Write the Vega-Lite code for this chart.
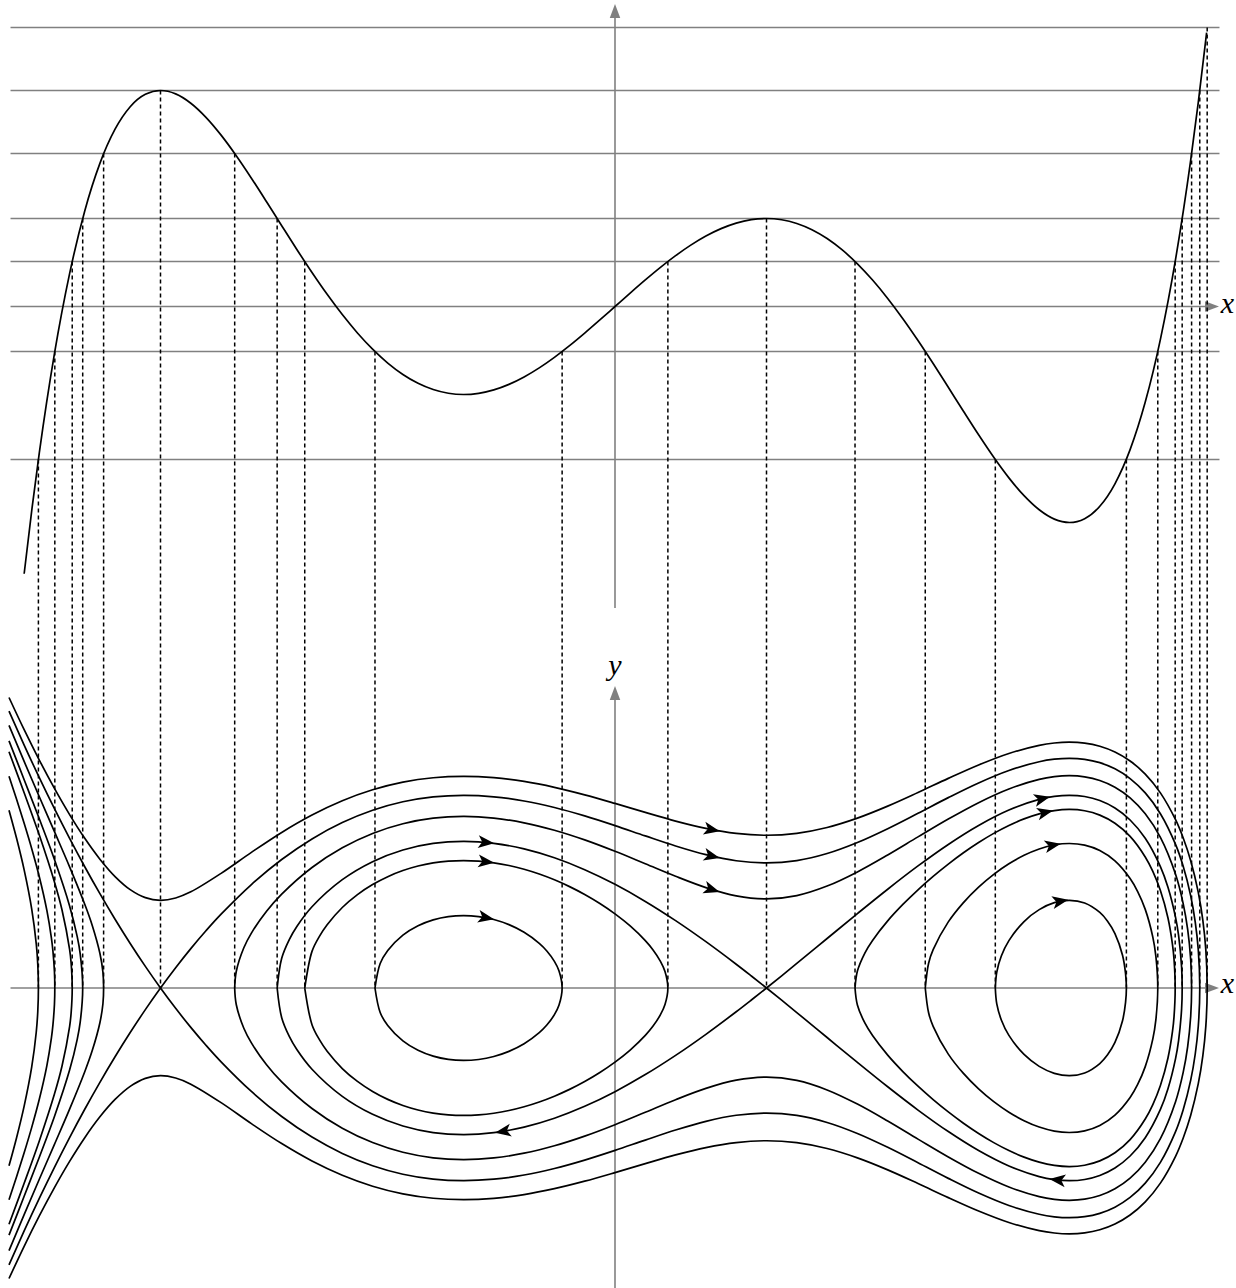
{
"$schema":"https://vega.github.io/schema/vega-lite/v6.json",
"width":1236,"height":1288,"padding":0,"autosize":{"type":"none"},
"background":"white",
"config":{"view":{"stroke":null}},
"datasets":{
"lev":[{"E":18.6},{"E":14.4},{"E":10.2},{"E":5.8667},{"E":3},{"E":-3},{"E":-10.2}],
"dash":[{"x":3.9088,"E":18.6},{"x":-3,"E":14.4},{"x":3.8599,"E":14.4},{"x":-3.3755,"E":10.2},{"x":-2.5103,"E":10.2},{"x":3.8059,"E":10.2},{"x":-3.5135,"E":5.8667},{"x":-2.23,"E":5.8667},{"x":1,"E":5.8667},{"x":3.7437,"E":5.8667},{"x":-3.5827,"E":3},{"x":-2.0479,"E":3},{"x":0.349,"E":3},{"x":1.5843,"E":3},{"x":3.6976,"E":3},{"x":-3.6976,"E":-3},{"x":-1.5843,"E":-3},{"x":-0.349,"E":-3},{"x":2.0479,"E":-3},{"x":3.5827,"E":-3},{"x":-3.8059,"E":-10.2},{"x":2.5103,"E":-10.2},{"x":3.3755,"E":-10.2}],
"pot":[{"x":-3.9,"V":-17.8184},{"x":-3.85,"V":-13.6019},{"x":-3.8,"V":-9.7637},{"x":-3.7,"V":-3.1446},{"x":-3.6,"V":2.1876},{"x":-3.5,"V":6.3729},{"x":-3.4,"V":9.5425},{"x":-3.3,"V":11.8192},{"x":-3.2,"V":13.3178},{"x":-3.1,"V":14.145},{"x":-3,"V":14.4},{"x":-2.9,"V":14.1744},{"x":-2.8,"V":13.5526},{"x":-2.7,"V":12.6122},{"x":-2.6,"V":11.4239},{"x":-2.5,"V":10.0521},{"x":-2.4,"V":8.5548},{"x":-2.3,"V":6.984},{"x":-2.2,"V":5.3861},{"x":-2.1,"V":3.8018},{"x":-2,"V":2.2667},{"x":-1.9,"V":0.8111},{"x":-1.8,"V":-0.5391},{"x":-1.7,"V":-1.763},{"x":-1.6,"V":-2.8438},{"x":-1.5,"V":-3.7688},{"x":-1.4,"V":-4.529},{"x":-1.3,"V":-5.1193},{"x":-1.2,"V":-5.5377},{"x":-1.1,"V":-5.7854},{"x":-1,"V":-5.8667},{"x":-0.9,"V":-5.7881},{"x":-0.8,"V":-5.5589},{"x":-0.7,"V":-5.1903},{"x":-0.6,"V":-4.6956},{"x":-0.5,"V":-4.0896},{"x":-0.4,"V":-3.3887},{"x":-0.3,"V":-2.6105},{"x":-0.2,"V":-1.7734},{"x":-0.1,"V":-0.8967},{"x":0,"V":0},{"x":0.1,"V":0.8967},{"x":0.2,"V":1.7734},{"x":0.3,"V":2.6105},{"x":0.4,"V":3.3887},{"x":0.5,"V":4.0896},{"x":0.6,"V":4.6956},{"x":0.7,"V":5.1903},{"x":0.8,"V":5.5589},{"x":0.9,"V":5.7881},{"x":1,"V":5.8667},{"x":1.1,"V":5.7854},{"x":1.2,"V":5.5377},{"x":1.3,"V":5.1193},{"x":1.4,"V":4.529},{"x":1.5,"V":3.7688},{"x":1.6,"V":2.8438},{"x":1.7,"V":1.763},{"x":1.8,"V":0.5391},{"x":1.9,"V":-0.8111},{"x":2,"V":-2.2667},{"x":2.1,"V":-3.8018},{"x":2.2,"V":-5.3861},{"x":2.3,"V":-6.984},{"x":2.4,"V":-8.5548},{"x":2.5,"V":-10.0521},{"x":2.6,"V":-11.4239},{"x":2.7,"V":-12.6122},{"x":2.8,"V":-13.5526},{"x":2.9,"V":-14.1744},{"x":3,"V":-14.4},{"x":3.1,"V":-14.145},{"x":3.2,"V":-13.3178},{"x":3.3,"V":-11.8192},{"x":3.4,"V":-9.5425},{"x":3.5,"V":-6.3729},{"x":3.6,"V":-2.1876},{"x":3.7,"V":3.1446},{"x":3.8,"V":9.7637},{"x":3.85,"V":13.6019},{"x":3.9,"V":17.8184},{"x":3.905,"V":18.26}],
"arr":[{"x":-0.85,"y":3.3998,"a":5.5},{"x":-0.85,"y":2.9482,"a":6.3},{"x":-0.85,"y":1.6406,"a":11.2},{"x":0.64,"y":3.7003,"a":11},{"x":0.64,"y":3.081,"a":13.1},{"x":0.64,"y":2.3005,"a":17.3},{"x":2.82,"y":4.4244,"a":-14},{"x":2.84,"y":4.1041,"a":-12.8},{"x":2.89,"y":3.3359,"a":-11},{"x":2.94,"y":2.0293,"a":-10.8},{"x":-0.74,"y":-3.3497,"a":170.8},{"x":2.92,"y":-4.4856,"a":186.4}],
"orb":[
{"c":"A","x":-4,"y":6.7872},{"c":"A","x":-3.9,"y":6.0348},{"c":"A","x":-3.8,"y":5.3258},{"c":"A","x":-3.7,"y":4.6632},{"c":"A","x":-3.6,"y":4.0512},{"c":"A","x":-3.5,"y":3.4967},{"c":"A","x":-3.4,"y":3.0096},{"c":"A","x":-3.3,"y":2.604},{"c":"A","x":-3.2,"y":2.2983},{"c":"A","x":-3.1,"y":2.1107},{"c":"A","x":-3,"y":2.0494},{"c":"A","x":-2.9,"y":2.1037},{"c":"A","x":-2.8,"y":2.2466},{"c":"A","x":-2.6,"y":2.6788},{"c":"A","x":-2.4,"y":3.1694},{"c":"A","x":-2.2,"y":3.6351},{"c":"A","x":-2,"y":4.0415},{"c":"A","x":-1.8,"y":4.3748},{"c":"A","x":-1.6,"y":4.6307},{"c":"A","x":-1.4,"y":4.8093},{"c":"A","x":-1.2,"y":4.913},{"c":"A","x":-1,"y":4.9464},{"c":"A","x":-0.8,"y":4.9152},{"c":"A","x":-0.6,"y":4.8266},{"c":"A","x":-0.4,"y":4.6892},{"c":"A","x":-0.2,"y":4.5137},{"c":"A","x":0,"y":4.3128},{"c":"A","x":0.2,"y":4.102},{"c":"A","x":0.4,"y":3.9002},{"c":"A","x":0.6,"y":3.7289},{"c":"A","x":0.8,"y":3.6113},{"c":"A","x":1,"y":3.5684},{"c":"A","x":1.2,"y":3.6142},{"c":"A","x":1.4,"y":3.7511},{"c":"A","x":1.6,"y":3.9694},{"c":"A","x":1.8,"y":4.2498},{"c":"A","x":2,"y":4.568},{"c":"A","x":2.2,"y":4.8976},{"c":"A","x":2.4,"y":5.211},{"c":"A","x":2.6,"y":5.4794},{"c":"A","x":2.8,"y":5.6703},{"c":"A","x":2.9,"y":5.7249},{"c":"A","x":3,"y":5.7446},{"c":"A","x":3.1,"y":5.7223},{"c":"A","x":3.2,"y":5.6496},{"c":"A","x":3.3,"y":5.5154},{"c":"A","x":3.4,"y":5.305},{"c":"A","x":3.5,"y":4.9973},{"c":"A","x":3.6,"y":4.5594},{"c":"A","x":3.7,"y":3.9313},{"c":"A","x":3.75,"y":3.5094},{"c":"A","x":3.8,"y":2.9726},{"c":"A","x":3.85,"y":2.2356},{"c":"A","x":3.88,"y":1.5856},{"c":"A","x":3.9,"y":0.8841},{"c":"A","x":3.9088,"y":0},
{"c":"A","x":3.9,"y":-0.8841},{"c":"A","x":3.88,"y":-1.5856},{"c":"A","x":3.85,"y":-2.2356},{"c":"A","x":3.8,"y":-2.9726},{"c":"A","x":3.75,"y":-3.5094},{"c":"A","x":3.7,"y":-3.9313},{"c":"A","x":3.6,"y":-4.5594},{"c":"A","x":3.5,"y":-4.9973},{"c":"A","x":3.4,"y":-5.305},{"c":"A","x":3.3,"y":-5.5154},{"c":"A","x":3.2,"y":-5.6496},{"c":"A","x":3.1,"y":-5.7223},{"c":"A","x":3,"y":-5.7446},{"c":"A","x":2.9,"y":-5.7249},{"c":"A","x":2.8,"y":-5.6703},{"c":"A","x":2.6,"y":-5.4794},{"c":"A","x":2.4,"y":-5.211},{"c":"A","x":2.2,"y":-4.8976},{"c":"A","x":2,"y":-4.568},{"c":"A","x":1.8,"y":-4.2498},{"c":"A","x":1.6,"y":-3.9694},{"c":"A","x":1.4,"y":-3.7511},{"c":"A","x":1.2,"y":-3.6142},{"c":"A","x":1,"y":-3.5684},{"c":"A","x":0.8,"y":-3.6113},{"c":"A","x":0.6,"y":-3.7289},{"c":"A","x":0.4,"y":-3.9002},{"c":"A","x":0.2,"y":-4.102},{"c":"A","x":0,"y":-4.3128},{"c":"A","x":-0.2,"y":-4.5137},{"c":"A","x":-0.4,"y":-4.6892},{"c":"A","x":-0.6,"y":-4.8266},{"c":"A","x":-0.8,"y":-4.9152},{"c":"A","x":-1,"y":-4.9464},{"c":"A","x":-1.2,"y":-4.913},{"c":"A","x":-1.4,"y":-4.8093},{"c":"A","x":-1.6,"y":-4.6307},{"c":"A","x":-1.8,"y":-4.3748},{"c":"A","x":-2,"y":-4.0415},{"c":"A","x":-2.2,"y":-3.6351},{"c":"A","x":-2.4,"y":-3.1694},{"c":"A","x":-2.6,"y":-2.6788},{"c":"A","x":-2.8,"y":-2.2466},{"c":"A","x":-2.9,"y":-2.1037},{"c":"A","x":-3,"y":-2.0494},{"c":"A","x":-3.1,"y":-2.1107},{"c":"A","x":-3.2,"y":-2.2983},{"c":"A","x":-3.3,"y":-2.604},{"c":"A","x":-3.4,"y":-3.0096},{"c":"A","x":-3.5,"y":-3.4967},{"c":"A","x":-3.6,"y":-4.0512},{"c":"A","x":-3.7,"y":-4.6632},{"c":"A","x":-3.8,"y":-5.3258},{"c":"A","x":-3.9,"y":-6.0348},{"c":"A","x":-4,"y":-6.7872},
{"c":"B","x":-4,"y":6.4705},{"c":"B","x":-3.9,"y":5.6761},{"c":"B","x":-3.8,"y":4.9157},{"c":"B","x":-3.7,"y":4.1886},{"c":"B","x":-3.6,"y":3.4946},{"c":"B","x":-3.5,"y":2.8332},{"c":"B","x":-3.4,"y":2.204},{"c":"B","x":-3.3,"y":1.6065},{"c":"B","x":-3.2,"y":1.0403},{"c":"B","x":-3.1,"y":0.505},{"c":"B","x":-3,"y":0},
{"c":"B","x":-2.9,"y":-0.475},{"c":"B","x":-2.8,"y":-0.9205},{"c":"B","x":-2.7,"y":-1.3371},{"c":"B","x":-2.6,"y":-1.7251},{"c":"B","x":-2.4,"y":-2.4177},{"c":"B","x":-2.2,"y":-3.0023},{"c":"B","x":-2,"y":-3.4833},{"c":"B","x":-1.8,"y":-3.8651},{"c":"B","x":-1.6,"y":-4.1526},{"c":"B","x":-1.4,"y":-4.3508},{"c":"B","x":-1.2,"y":-4.4652},{"c":"B","x":-1,"y":-4.5019},{"c":"B","x":-0.8,"y":-4.4676},{"c":"B","x":-0.6,"y":-4.3699},{"c":"B","x":-0.4,"y":-4.2177},{"c":"B","x":-0.2,"y":-4.0216},{"c":"B","x":0,"y":-3.7947},{"c":"B","x":0.2,"y":-3.5534},{"c":"B","x":0.4,"y":-3.3183},{"c":"B","x":0.6,"y":-3.1152},{"c":"B","x":0.8,"y":-2.9734},{"c":"B","x":1,"y":-2.9212},{"c":"B","x":1.2,"y":-2.977},{"c":"B","x":1.4,"y":-3.1418},{"c":"B","x":1.6,"y":-3.3994},{"c":"B","x":1.8,"y":-3.723},{"c":"B","x":2,"y":-4.0825},{"c":"B","x":2.2,"y":-4.4481},{"c":"B","x":2.4,"y":-4.7911},{"c":"B","x":2.6,"y":-5.0817},{"c":"B","x":2.8,"y":-5.287},{"c":"B","x":2.9,"y":-5.3455},{"c":"B","x":3,"y":-5.3666},{"c":"B","x":3.1,"y":-5.3428},{"c":"B","x":3.2,"y":-5.2647},{"c":"B","x":3.3,"y":-5.1205},{"c":"B","x":3.4,"y":-4.8931},{"c":"B","x":3.5,"y":-4.5577},{"c":"B","x":3.6,"y":-4.0728},{"c":"B","x":3.7,"y":-3.3549},{"c":"B","x":3.75,"y":-2.8488},{"c":"B","x":3.8,"y":-2.1532},{"c":"B","x":3.83,"y":-1.5419},{"c":"B","x":3.85,"y":-0.8934},{"c":"B","x":3.8599,"y":0},
{"c":"B","x":3.85,"y":0.8934},{"c":"B","x":3.83,"y":1.5419},{"c":"B","x":3.8,"y":2.1532},{"c":"B","x":3.75,"y":2.8488},{"c":"B","x":3.7,"y":3.3549},{"c":"B","x":3.6,"y":4.0728},{"c":"B","x":3.5,"y":4.5577},{"c":"B","x":3.4,"y":4.8931},{"c":"B","x":3.3,"y":5.1205},{"c":"B","x":3.2,"y":5.2647},{"c":"B","x":3.1,"y":5.3428},{"c":"B","x":3,"y":5.3666},{"c":"B","x":2.9,"y":5.3455},{"c":"B","x":2.8,"y":5.287},{"c":"B","x":2.6,"y":5.0817},{"c":"B","x":2.4,"y":4.7911},{"c":"B","x":2.2,"y":4.4481},{"c":"B","x":2,"y":4.0825},{"c":"B","x":1.8,"y":3.723},{"c":"B","x":1.6,"y":3.3994},{"c":"B","x":1.4,"y":3.1418},{"c":"B","x":1.2,"y":2.977},{"c":"B","x":1,"y":2.9212},{"c":"B","x":0.8,"y":2.9734},{"c":"B","x":0.6,"y":3.1152},{"c":"B","x":0.4,"y":3.3183},{"c":"B","x":0.2,"y":3.5534},{"c":"B","x":0,"y":3.7947},{"c":"B","x":-0.2,"y":4.0216},{"c":"B","x":-0.4,"y":4.2177},{"c":"B","x":-0.6,"y":4.3699},{"c":"B","x":-0.8,"y":4.4676},{"c":"B","x":-1,"y":4.5019},{"c":"B","x":-1.2,"y":4.4652},{"c":"B","x":-1.4,"y":4.3508},{"c":"B","x":-1.6,"y":4.1526},{"c":"B","x":-1.8,"y":3.8651},{"c":"B","x":-2,"y":3.4833},{"c":"B","x":-2.2,"y":3.0023},{"c":"B","x":-2.4,"y":2.4177},{"c":"B","x":-2.6,"y":1.7251},{"c":"B","x":-2.7,"y":1.3371},{"c":"B","x":-2.8,"y":0.9205},{"c":"B","x":-2.9,"y":0.475},{"c":"B","x":-3,"y":0},
{"c":"B","x":-3.1,"y":-0.505},{"c":"B","x":-3.2,"y":-1.0403},{"c":"B","x":-3.3,"y":-1.6065},{"c":"B","x":-3.4,"y":-2.204},{"c":"B","x":-3.5,"y":-2.8332},{"c":"B","x":-3.6,"y":-3.4946},{"c":"B","x":-3.7,"y":-4.1886},{"c":"B","x":-3.8,"y":-4.9157},{"c":"B","x":-3.9,"y":-5.6761},{"c":"B","x":-4,"y":-6.4705},
{"c":"C","x":-4,"y":6.1373},{"c":"C","x":-3.9,"y":5.2932},{"c":"C","x":-3.8,"y":4.4681},{"c":"C","x":-3.7,"y":3.653},{"c":"C","x":-3.6,"y":2.8306},{"c":"C","x":-3.5,"y":1.9563},{"c":"C","x":-3.45,"y":1.4571},{"c":"C","x":-3.4,"y":0.8109},{"c":"C","x":-3.38,"y":0.3681},{"c":"C","x":-3.3755,"y":0},{"c":"C","x":-3.38,"y":-0.3681},{"c":"C","x":-3.4,"y":-0.8109},{"c":"C","x":-3.45,"y":-1.4571},{"c":"C","x":-3.5,"y":-1.9563},{"c":"C","x":-3.6,"y":-2.8306},{"c":"C","x":-3.7,"y":-3.653},{"c":"C","x":-3.8,"y":-4.4681},{"c":"C","x":-3.9,"y":-5.2932},{"c":"C","x":-4,"y":-6.1373},
{"c":"D","x":-2.5103,"y":0},{"c":"D","x":-2.5,"y":0.3846},{"c":"D","x":-2.45,"y":0.9404},{"c":"D","x":-2.4,"y":1.2827},{"c":"D","x":-2.3,"y":1.7933},{"c":"D","x":-2.2,"y":2.1941},{"c":"D","x":-2,"y":2.8166},{"c":"D","x":-1.8,"y":3.2771},{"c":"D","x":-1.6,"y":3.6116},{"c":"D","x":-1.4,"y":3.8378},{"c":"D","x":-1.2,"y":3.9671},{"c":"D","x":-1,"y":4.0083},{"c":"D","x":-0.8,"y":3.9697},{"c":"D","x":-0.6,"y":3.8595},{"c":"D","x":-0.4,"y":3.6863},{"c":"D","x":-0.2,"y":3.4603},{"c":"D","x":0,"y":3.1937},{"c":"D","x":0.2,"y":2.9029},{"c":"D","x":0.4,"y":2.6098},{"c":"D","x":0.6,"y":2.3462},{"c":"D","x":0.8,"y":2.1543},{"c":"D","x":1,"y":2.0817},{"c":"D","x":1.2,"y":2.1592},{"c":"D","x":1.4,"y":2.3814},{"c":"D","x":1.6,"y":2.7122},{"c":"D","x":1.8,"y":3.1082},{"c":"D","x":2,"y":3.5308},{"c":"D","x":2.2,"y":3.9479},{"c":"D","x":2.4,"y":4.3307},{"c":"D","x":2.6,"y":4.6502},{"c":"D","x":2.8,"y":4.8737},{"c":"D","x":2.9,"y":4.9371},{"c":"D","x":3,"y":4.9598},{"c":"D","x":3.1,"y":4.9341},{"c":"D","x":3.2,"y":4.8495},{"c":"D","x":3.3,"y":4.6925},{"c":"D","x":3.4,"y":4.4433},{"c":"D","x":3.5,"y":4.071},{"c":"D","x":3.6,"y":3.5196},{"c":"D","x":3.7,"y":2.6562},{"c":"D","x":3.75,"y":1.9788},{"c":"D","x":3.78,"y":1.3675},{"c":"D","x":3.8,"y":0.6605},{"c":"D","x":3.8059,"y":0},
{"c":"D","x":3.8,"y":-0.6605},{"c":"D","x":3.78,"y":-1.3675},{"c":"D","x":3.75,"y":-1.9788},{"c":"D","x":3.7,"y":-2.6562},{"c":"D","x":3.6,"y":-3.5196},{"c":"D","x":3.5,"y":-4.071},{"c":"D","x":3.4,"y":-4.4433},{"c":"D","x":3.3,"y":-4.6925},{"c":"D","x":3.2,"y":-4.8495},{"c":"D","x":3.1,"y":-4.9341},{"c":"D","x":3,"y":-4.9598},{"c":"D","x":2.9,"y":-4.9371},{"c":"D","x":2.8,"y":-4.8737},{"c":"D","x":2.6,"y":-4.6502},{"c":"D","x":2.4,"y":-4.3307},{"c":"D","x":2.2,"y":-3.9479},{"c":"D","x":2,"y":-3.5308},{"c":"D","x":1.8,"y":-3.1082},{"c":"D","x":1.6,"y":-2.7122},{"c":"D","x":1.4,"y":-2.3814},{"c":"D","x":1.2,"y":-2.1592},{"c":"D","x":1,"y":-2.0817},{"c":"D","x":0.8,"y":-2.1543},{"c":"D","x":0.6,"y":-2.3462},{"c":"D","x":0.4,"y":-2.6098},{"c":"D","x":0.2,"y":-2.9029},{"c":"D","x":0,"y":-3.1937},{"c":"D","x":-0.2,"y":-3.4603},{"c":"D","x":-0.4,"y":-3.6863},{"c":"D","x":-0.6,"y":-3.8595},{"c":"D","x":-0.8,"y":-3.9697},{"c":"D","x":-1,"y":-4.0083},{"c":"D","x":-1.2,"y":-3.9671},{"c":"D","x":-1.4,"y":-3.8378},{"c":"D","x":-1.6,"y":-3.6116},{"c":"D","x":-1.8,"y":-3.2771},{"c":"D","x":-2,"y":-2.8166},{"c":"D","x":-2.2,"y":-2.1941},{"c":"D","x":-2.3,"y":-1.7933},{"c":"D","x":-2.4,"y":-1.2827},{"c":"D","x":-2.45,"y":-0.9404},{"c":"D","x":-2.5,"y":-0.3846},{"c":"D","x":-2.5103,"y":0},
{"c":"E","x":-4,"y":5.7735},{"c":"E","x":-3.9,"y":4.8667},{"c":"E","x":-3.8,"y":3.9535},{"c":"E","x":-3.7,"y":3.0019},{"c":"E","x":-3.6,"y":1.9181},{"c":"E","x":-3.55,"y":1.2047},{"c":"E","x":-3.53,"y":0.798},{"c":"E","x":-3.5135,"y":0},{"c":"E","x":-3.53,"y":-0.798},{"c":"E","x":-3.55,"y":-1.2047},{"c":"E","x":-3.6,"y":-1.9181},{"c":"E","x":-3.7,"y":-3.0019},{"c":"E","x":-3.8,"y":-3.9535},{"c":"E","x":-3.9,"y":-4.8667},{"c":"E","x":-4,"y":-5.7735},
{"c":"F","x":-2.23,"y":0},{"c":"F","x":-2.2,"y":0.6932},{"c":"F","x":-2.15,"y":1.13},{"c":"F","x":-2.1,"y":1.437},{"c":"F","x":-2,"y":1.8974},{"c":"F","x":-1.8,"y":2.531},{"c":"F","x":-1.6,"y":2.9514},{"c":"F","x":-1.4,"y":3.2242},{"c":"F","x":-1.2,"y":3.377},{"c":"F","x":-1,"y":3.4254},{"c":"F","x":-0.8,"y":3.3802},{"c":"F","x":-0.6,"y":3.25},{"c":"F","x":-0.4,"y":3.0423},{"c":"F","x":-0.2,"y":2.7641},{"c":"F","x":0,"y":2.4221},{"c":"F","x":0.2,"y":2.0232},{"c":"F","x":0.4,"y":1.5742},{"c":"F","x":0.6,"y":1.0822},{"c":"F","x":0.8,"y":0.5548},{"c":"F","x":0.9,"y":0.2803},{"c":"F","x":1,"y":0},
{"c":"F","x":1.1,"y":-0.2851},{"c":"F","x":1.2,"y":-0.5736},{"c":"F","x":1.4,"y":-1.1566},{"c":"F","x":1.6,"y":-1.7387},{"c":"F","x":1.8,"y":-2.3082},{"c":"F","x":2,"y":-2.8519},{"c":"F","x":2.2,"y":-3.3545},{"c":"F","x":2.4,"y":-3.7976},{"c":"F","x":2.6,"y":-4.1582},{"c":"F","x":2.8,"y":-4.4067},{"c":"F","x":2.9,"y":-4.4767},{"c":"F","x":3,"y":-4.5019},{"c":"F","x":3.1,"y":-4.4735},{"c":"F","x":3.2,"y":-4.38},{"c":"F","x":3.3,"y":-4.2055},{"c":"F","x":3.4,"y":-3.9254},{"c":"F","x":3.5,"y":-3.4985},{"c":"F","x":3.6,"y":-2.838},{"c":"F","x":3.65,"y":-2.3537},{"c":"F","x":3.7,"y":-1.6499},{"c":"F","x":3.72,"y":-1.2272},{"c":"F","x":3.74,"y":-0.4869},{"c":"F","x":3.7437,"y":0},
{"c":"F","x":3.74,"y":0.4869},{"c":"F","x":3.72,"y":1.2272},{"c":"F","x":3.7,"y":1.6499},{"c":"F","x":3.65,"y":2.3537},{"c":"F","x":3.6,"y":2.838},{"c":"F","x":3.5,"y":3.4985},{"c":"F","x":3.4,"y":3.9254},{"c":"F","x":3.3,"y":4.2055},{"c":"F","x":3.2,"y":4.38},{"c":"F","x":3.1,"y":4.4735},{"c":"F","x":3,"y":4.5019},{"c":"F","x":2.9,"y":4.4767},{"c":"F","x":2.8,"y":4.4067},{"c":"F","x":2.6,"y":4.1582},{"c":"F","x":2.4,"y":3.7976},{"c":"F","x":2.2,"y":3.3545},{"c":"F","x":2,"y":2.8519},{"c":"F","x":1.8,"y":2.3082},{"c":"F","x":1.6,"y":1.7387},{"c":"F","x":1.4,"y":1.1566},{"c":"F","x":1.2,"y":0.5736},{"c":"F","x":1.1,"y":0.2851},{"c":"F","x":1,"y":0},
{"c":"F","x":0.9,"y":-0.2803},{"c":"F","x":0.8,"y":-0.5548},{"c":"F","x":0.6,"y":-1.0822},{"c":"F","x":0.4,"y":-1.5742},{"c":"F","x":0.2,"y":-2.0232},{"c":"F","x":0,"y":-2.4221},{"c":"F","x":-0.2,"y":-2.7641},{"c":"F","x":-0.4,"y":-3.0423},{"c":"F","x":-0.6,"y":-3.25},{"c":"F","x":-0.8,"y":-3.3802},{"c":"F","x":-1,"y":-3.4254},{"c":"F","x":-1.2,"y":-3.377},{"c":"F","x":-1.4,"y":-3.2242},{"c":"F","x":-1.6,"y":-2.9514},{"c":"F","x":-1.8,"y":-2.531},{"c":"F","x":-2,"y":-1.8974},{"c":"F","x":-2.1,"y":-1.437},{"c":"F","x":-2.15,"y":-1.13},{"c":"F","x":-2.2,"y":-0.6932},{"c":"F","x":-2.23,"y":0},
{"c":"G","x":-4,"y":5.5197},{"c":"G","x":-3.9,"y":4.5627},{"c":"G","x":-3.8,"y":3.5727},{"c":"G","x":-3.7,"y":2.4788},{"c":"G","x":-3.65,"y":1.8239},{"c":"G","x":-3.6,"y":0.9013},{"c":"G","x":-3.59,"y":0.586},{"c":"G","x":-3.5827,"y":0},{"c":"G","x":-3.59,"y":-0.586},{"c":"G","x":-3.6,"y":-0.9013},{"c":"G","x":-3.65,"y":-1.8239},{"c":"G","x":-3.7,"y":-2.4788},{"c":"G","x":-3.8,"y":-3.5727},{"c":"G","x":-3.9,"y":-4.5627},{"c":"G","x":-4,"y":-5.5197},
{"c":"H","x":-2.0479,"y":0},{"c":"H","x":-2,"y":0.8563},{"c":"H","x":-1.95,"y":1.2136},{"c":"H","x":-1.9,"y":1.4795},{"c":"H","x":-1.8,"y":1.8813},{"c":"H","x":-1.7,"y":2.1824},{"c":"H","x":-1.6,"y":2.4174},{"c":"H","x":-1.5,"y":2.6017},{"c":"H","x":-1.4,"y":2.7439},{"c":"H","x":-1.3,"y":2.8495},{"c":"H","x":-1.2,"y":2.9219},{"c":"H","x":-1.1,"y":2.964},{"c":"H","x":-1,"y":2.9777},{"c":"H","x":-0.9,"y":2.9645},{"c":"H","x":-0.8,"y":2.9256},{"c":"H","x":-0.7,"y":2.8619},{"c":"H","x":-0.6,"y":2.7741},{"c":"H","x":-0.5,"y":2.6626},{"c":"H","x":-0.4,"y":2.5276},{"c":"H","x":-0.3,"y":2.3687},{"c":"H","x":-0.2,"y":2.1848},{"c":"H","x":-0.1,"y":1.974},{"c":"H","x":0,"y":1.7321},{"c":"H","x":0.1,"y":1.4503},{"c":"H","x":0.2,"y":1.1075},{"c":"H","x":0.25,"y":0.8955},{"c":"H","x":0.3,"y":0.6241},{"c":"H","x":0.33,"y":0.386},{"c":"H","x":0.349,"y":0},
{"c":"H","x":0.33,"y":-0.386},{"c":"H","x":0.3,"y":-0.6241},{"c":"H","x":0.25,"y":-0.8955},{"c":"H","x":0.2,"y":-1.1075},{"c":"H","x":0.1,"y":-1.4503},{"c":"H","x":0,"y":-1.7321},{"c":"H","x":-0.1,"y":-1.974},{"c":"H","x":-0.2,"y":-2.1848},{"c":"H","x":-0.3,"y":-2.3687},{"c":"H","x":-0.4,"y":-2.5276},{"c":"H","x":-0.5,"y":-2.6626},{"c":"H","x":-0.6,"y":-2.7741},{"c":"H","x":-0.7,"y":-2.8619},{"c":"H","x":-0.8,"y":-2.9256},{"c":"H","x":-0.9,"y":-2.9645},{"c":"H","x":-1,"y":-2.9777},{"c":"H","x":-1.1,"y":-2.964},{"c":"H","x":-1.2,"y":-2.9219},{"c":"H","x":-1.3,"y":-2.8495},{"c":"H","x":-1.4,"y":-2.7439},{"c":"H","x":-1.5,"y":-2.6017},{"c":"H","x":-1.6,"y":-2.4174},{"c":"H","x":-1.7,"y":-2.1824},{"c":"H","x":-1.8,"y":-1.8813},{"c":"H","x":-1.9,"y":-1.4795},{"c":"H","x":-1.95,"y":-1.2136},{"c":"H","x":-2,"y":-0.8563},{"c":"H","x":-2.0479,"y":0},
{"c":"I","x":1.5843,"y":0},{"c":"I","x":1.6,"y":0.3952},{"c":"I","x":1.65,"y":0.8233},{"c":"I","x":1.7,"y":1.1122},{"c":"I","x":1.8,"y":1.5687},{"c":"I","x":1.9,"y":1.9522},{"c":"I","x":2,"y":2.2949},{"c":"I","x":2.1,"y":2.608},{"c":"I","x":2.2,"y":2.8959},{"c":"I","x":2.3,"y":3.1597},{"c":"I","x":2.4,"y":3.3992},{"c":"I","x":2.5,"y":3.6128},{"c":"I","x":2.6,"y":3.7979},{"c":"I","x":2.7,"y":3.9512},{"c":"I","x":2.8,"y":4.0685},{"c":"I","x":2.9,"y":4.1442},{"c":"I","x":3,"y":4.1713},{"c":"I","x":3.1,"y":4.1407},{"c":"I","x":3.2,"y":4.0395},{"c":"I","x":3.3,"y":3.8496},{"c":"I","x":3.4,"y":3.5415},{"c":"I","x":3.5,"y":3.0615},{"c":"I","x":3.55,"y":2.7231},{"c":"I","x":3.6,"y":2.2776},{"c":"I","x":3.65,"y":1.6351},{"c":"I","x":3.68,"y":1.0101},{"c":"I","x":3.69,"y":0.6689},{"c":"I","x":3.6976,"y":0},
{"c":"I","x":3.69,"y":-0.6689},{"c":"I","x":3.68,"y":-1.0101},{"c":"I","x":3.65,"y":-1.6351},{"c":"I","x":3.6,"y":-2.2776},{"c":"I","x":3.55,"y":-2.7231},{"c":"I","x":3.5,"y":-3.0615},{"c":"I","x":3.4,"y":-3.5415},{"c":"I","x":3.3,"y":-3.8496},{"c":"I","x":3.2,"y":-4.0395},{"c":"I","x":3.1,"y":-4.1407},{"c":"I","x":3,"y":-4.1713},{"c":"I","x":2.9,"y":-4.1442},{"c":"I","x":2.8,"y":-4.0685},{"c":"I","x":2.7,"y":-3.9512},{"c":"I","x":2.6,"y":-3.7979},{"c":"I","x":2.5,"y":-3.6128},{"c":"I","x":2.4,"y":-3.3992},{"c":"I","x":2.3,"y":-3.1597},{"c":"I","x":2.2,"y":-2.8959},{"c":"I","x":2.1,"y":-2.608},{"c":"I","x":2,"y":-2.2949},{"c":"I","x":1.9,"y":-1.9522},{"c":"I","x":1.8,"y":-1.5687},{"c":"I","x":1.7,"y":-1.1122},{"c":"I","x":1.65,"y":-0.8233},{"c":"I","x":1.6,"y":-0.3952},{"c":"I","x":1.5843,"y":0},
{"c":"J","x":-4,"y":4.9464},{"c":"J","x":-3.95,"y":4.4083},{"c":"J","x":-3.9,"y":3.8495},{"c":"J","x":-3.85,"y":3.256},{"c":"J","x":-3.8,"y":2.6007},{"c":"J","x":-3.75,"y":1.8122},{"c":"J","x":-3.72,"y":1.1665},{"c":"J","x":-3.71,"y":0.8617},{"c":"J","x":-3.7,"y":0.3803},{"c":"J","x":-3.6976,"y":0},{"c":"J","x":-3.7,"y":-0.3803},{"c":"J","x":-3.71,"y":-0.8617},{"c":"J","x":-3.72,"y":-1.1665},{"c":"J","x":-3.75,"y":-1.8122},{"c":"J","x":-3.8,"y":-2.6007},{"c":"J","x":-3.85,"y":-3.256},{"c":"J","x":-3.9,"y":-3.8495},{"c":"J","x":-3.95,"y":-4.4083},{"c":"J","x":-4,"y":-4.9464},
{"c":"K","x":-1.5843,"y":0},{"c":"K","x":-1.55,"y":0.5713},{"c":"K","x":-1.5,"y":0.8768},{"c":"K","x":-1.4,"y":1.2365},{"c":"K","x":-1.3,"y":1.4558},{"c":"K","x":-1.2,"y":1.593},{"c":"K","x":-1.1,"y":1.669},{"c":"K","x":-1,"y":1.6931},{"c":"K","x":-0.9,"y":1.6698},{"c":"K","x":-0.8,"y":1.5997},{"c":"K","x":-0.7,"y":1.48},{"c":"K","x":-0.6,"y":1.3022},{"c":"K","x":-0.5,"y":1.0438},{"c":"K","x":-0.45,"y":0.866},{"c":"K","x":-0.4,"y":0.6235},{"c":"K","x":-0.37,"y":0.4031},{"c":"K","x":-0.349,"y":0},{"c":"K","x":-0.37,"y":-0.4031},{"c":"K","x":-0.4,"y":-0.6235},{"c":"K","x":-0.45,"y":-0.866},{"c":"K","x":-0.5,"y":-1.0438},{"c":"K","x":-0.6,"y":-1.3022},{"c":"K","x":-0.7,"y":-1.48},{"c":"K","x":-0.8,"y":-1.5997},{"c":"K","x":-0.9,"y":-1.6698},{"c":"K","x":-1,"y":-1.6931},{"c":"K","x":-1.1,"y":-1.669},{"c":"K","x":-1.2,"y":-1.593},{"c":"K","x":-1.3,"y":-1.4558},{"c":"K","x":-1.4,"y":-1.2365},{"c":"K","x":-1.5,"y":-0.8768},{"c":"K","x":-1.55,"y":-0.5713},{"c":"K","x":-1.5843,"y":0},
{"c":"L","x":2.0479,"y":0},{"c":"L","x":2.07,"y":0.5786},{"c":"L","x":2.1,"y":0.8954},{"c":"L","x":2.2,"y":1.5447},{"c":"L","x":2.3,"y":1.996},{"c":"L","x":2.4,"y":2.3569},{"c":"L","x":2.5,"y":2.6556},{"c":"L","x":2.6,"y":2.9024},{"c":"L","x":2.7,"y":3.1004},{"c":"L","x":2.8,"y":3.2485},{"c":"L","x":2.9,"y":3.3428},{"c":"L","x":3,"y":3.3764},{"c":"L","x":3.1,"y":3.3384},{"c":"L","x":3.2,"y":3.2121},{"c":"L","x":3.3,"y":2.9697},{"c":"L","x":3.4,"y":2.5578},{"c":"L","x":3.45,"y":2.2532},{"c":"L","x":3.5,"y":1.8366},{"c":"L","x":3.55,"y":1.1897},{"c":"L","x":3.57,"y":0.745},{"c":"L","x":3.5827,"y":0},{"c":"L","x":3.57,"y":-0.745},{"c":"L","x":3.55,"y":-1.1897},{"c":"L","x":3.5,"y":-1.8366},{"c":"L","x":3.45,"y":-2.2532},{"c":"L","x":3.4,"y":-2.5578},{"c":"L","x":3.3,"y":-2.9697},{"c":"L","x":3.2,"y":-3.2121},{"c":"L","x":3.1,"y":-3.3384},{"c":"L","x":3,"y":-3.3764},{"c":"L","x":2.9,"y":-3.3428},{"c":"L","x":2.8,"y":-3.2485},{"c":"L","x":2.7,"y":-3.1004},{"c":"L","x":2.6,"y":-2.9024},{"c":"L","x":2.5,"y":-2.6556},{"c":"L","x":2.4,"y":-2.3569},{"c":"L","x":2.3,"y":-1.996},{"c":"L","x":2.2,"y":-1.5447},{"c":"L","x":2.1,"y":-0.8954},{"c":"L","x":2.07,"y":-0.5786},{"c":"L","x":2.0479,"y":0},
{"c":"M","x":-4,"y":4.1553},{"c":"M","x":-3.95,"y":3.4976},{"c":"M","x":-3.9,"y":2.7602},{"c":"M","x":-3.85,"y":1.8444},{"c":"M","x":-3.82,"y":1.0275},{"c":"M","x":-3.81,"y":0.5475},{"c":"M","x":-3.8059,"y":0},{"c":"M","x":-3.81,"y":-0.5475},{"c":"M","x":-3.82,"y":-1.0275},{"c":"M","x":-3.85,"y":-1.8444},{"c":"M","x":-3.9,"y":-2.7602},{"c":"M","x":-3.95,"y":-3.4976},{"c":"M","x":-4,"y":-4.1553},
{"c":"N","x":2.5103,"y":0},{"c":"N","x":2.52,"y":0.3716},{"c":"N","x":2.55,"y":0.7464},{"c":"N","x":2.6,"y":1.1063},{"c":"N","x":2.7,"y":1.5531},{"c":"N","x":2.8,"y":1.831},{"c":"N","x":2.9,"y":1.9936},{"c":"N","x":3,"y":2.0494},{"c":"N","x":3.1,"y":1.9862},{"c":"N","x":3.2,"y":1.7657},{"c":"N","x":3.25,"y":1.5681},{"c":"N","x":3.3,"y":1.2725},{"c":"N","x":3.35,"y":0.7649},{"c":"N","x":3.37,"y":0.3373},{"c":"N","x":3.3755,"y":0},{"c":"N","x":3.37,"y":-0.3373},{"c":"N","x":3.35,"y":-0.7649},{"c":"N","x":3.3,"y":-1.2725},{"c":"N","x":3.25,"y":-1.5681},{"c":"N","x":3.2,"y":-1.7657},{"c":"N","x":3.1,"y":-1.9862},{"c":"N","x":3,"y":-2.0494},{"c":"N","x":2.9,"y":-1.9936},{"c":"N","x":2.8,"y":-1.831},{"c":"N","x":2.7,"y":-1.5531},{"c":"N","x":2.6,"y":-1.1063},{"c":"N","x":2.55,"y":-0.7464},{"c":"N","x":2.52,"y":-0.3716},{"c":"N","x":2.5103,"y":0}
]
},
"resolve":{"scale":{"y":"independent"}},
"layer":[
{"layer":[
{"data":{"name":"lev"},"mark":{"type":"rule","color":"#808080","strokeWidth":1.6},
 "encoding":{"x":{"datum":-3.99,"type":"quantitative","scale":{"domain":[-4.0594,4.099],"nice":false,"zero":false},"axis":null},"x2":{"datum":3.99},
 "y":{"field":"E","type":"quantitative","scale":{"domain":[-65.4333,20.4333],"nice":false,"zero":false},"axis":null}}},
{"data":{"values":[{}]},"mark":{"type":"rule","color":"#808080","strokeWidth":1.6},
 "encoding":{"x":{"datum":-3.99,"type":"quantitative"},"x2":{"datum":3.94},"y":{"datum":0,"type":"quantitative"}}},
{"data":{"values":[{}]},"mark":{"type":"rule","color":"#808080","strokeWidth":1.6},
 "encoding":{"x":{"datum":0,"type":"quantitative"},"y":{"datum":-20.1,"type":"quantitative"},"y2":{"datum":19.7}}},
{"data":{"values":[{}]},"mark":{"type":"point","shape":"M1,0L-1,-0.75L-1,0.75Z","filled":true,"color":"#808080","opacity":1,"size":196,"angle":0},
 "encoding":{"x":{"datum":3.9406,"type":"quantitative"},"y":{"datum":0,"type":"quantitative"}}},
{"data":{"values":[{}]},"mark":{"type":"point","shape":"M1,0L-1,-0.75L-1,0.75Z","filled":true,"color":"#808080","opacity":1,"size":196,"angle":-90},
 "encoding":{"x":{"datum":0,"type":"quantitative"},"y":{"datum":19.7,"type":"quantitative"}}},
{"data":{"values":[{"t":"x"}]},"mark":{"type":"text","font":"Liberation Serif","fontStyle":"italic","fontSize":30,"align":"center","baseline":"alphabetic","color":"black"},
 "encoding":{"x":{"datum":4.043,"type":"quantitative"},"y":{"datum":-0.43,"type":"quantitative"},"text":{"field":"t"}}},
{"data":{"name":"dash"},"mark":{"type":"rule","color":"black","strokeWidth":1.5,"strokeDash":[4,3]},
 "encoding":{"x":{"field":"x","type":"quantitative"},"y":{"field":"E","type":"quantitative"},"y2":{"datum":-45.4333}}},
{"data":{"name":"pot"},"mark":{"type":"line","color":"black","strokeWidth":1.7,"interpolate":"monotone"},
 "encoding":{"x":{"field":"x","type":"quantitative"},"y":{"field":"V","type":"quantitative"}}}
]},
{"layer":[
{"data":{"values":[{}]},"mark":{"type":"rule","color":"#808080","strokeWidth":1.6},
 "encoding":{"x":{"datum":-3.99,"type":"quantitative","scale":{"domain":[-4.0594,4.099],"nice":false,"zero":false},"axis":null},"x2":{"datum":3.94},
 "y":{"datum":0,"type":"quantitative","scale":{"domain":[-7.0093,23.0841],"nice":false,"zero":false},"axis":null}}},
{"data":{"values":[{}]},"mark":{"type":"rule","color":"#808080","strokeWidth":1.6},
 "encoding":{"x":{"datum":0,"type":"quantitative"},"y":{"datum":-7.0093,"type":"quantitative"},"y2":{"datum":6.893}}},
{"data":{"values":[{}]},"mark":{"type":"point","shape":"M1,0L-1,-0.75L-1,0.75Z","filled":true,"color":"#808080","opacity":1,"size":196,"angle":0},
 "encoding":{"x":{"datum":3.9406,"type":"quantitative"},"y":{"datum":0,"type":"quantitative"}}},
{"data":{"values":[{}]},"mark":{"type":"point","shape":"M1,0L-1,-0.75L-1,0.75Z","filled":true,"color":"#808080","opacity":1,"size":196,"angle":-90},
 "encoding":{"x":{"datum":0,"type":"quantitative"},"y":{"datum":6.893,"type":"quantitative"}}},
{"data":{"values":[{"t":"x","x":4.043,"y":-0.117},{"t":"y","x":0,"y":7.313}]},"mark":{"type":"text","font":"Liberation Serif","fontStyle":"italic","fontSize":30,"align":"center","baseline":"alphabetic","color":"black"},
 "encoding":{"x":{"field":"x","type":"quantitative"},"y":{"field":"y","type":"quantitative"},"text":{"field":"t"}}},
{"data":{"name":"orb"},"mark":{"type":"line","color":"black","strokeWidth":1.7,"interpolate":"catmull-rom"},
 "encoding":{"x":{"field":"x","type":"quantitative"},"y":{"field":"y","type":"quantitative"},"detail":{"field":"c"},"order":{"value":null}}},
{"data":{"name":"arr"},"mark":{"type":"point","shape":"M1,0L-1,-0.8L-0.5,0L-1,0.8Z","filled":true,"color":"black","opacity":1,"size":256},
 "encoding":{"x":{"field":"x","type":"quantitative"},"y":{"field":"y","type":"quantitative"},"angle":{"field":"a","type":"quantitative","scale":null}}}
]}
]
}
